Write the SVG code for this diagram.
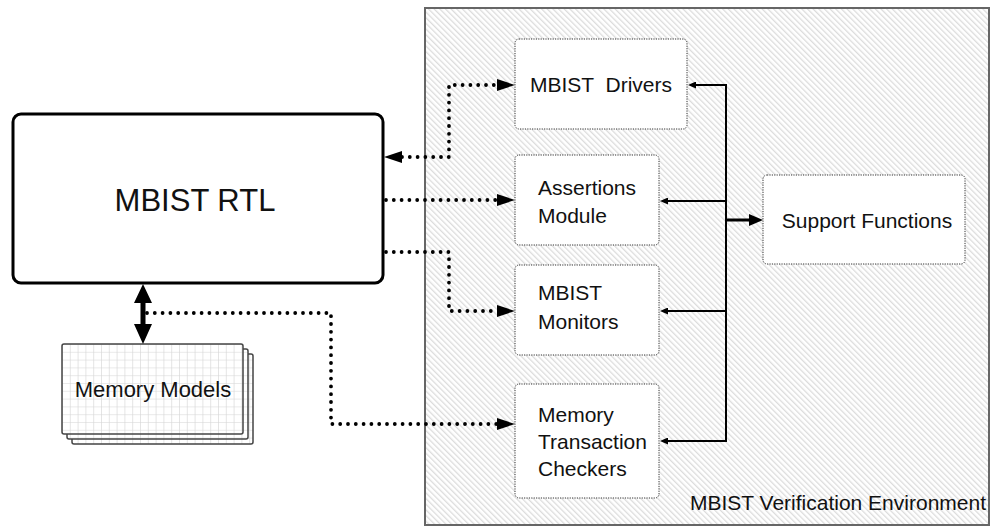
<svg xmlns="http://www.w3.org/2000/svg" width="994" height="527" viewBox="0 0 994 527">
  <defs>
    <pattern id="hatch" width="4" height="4" patternUnits="userSpaceOnUse" patternTransform="rotate(-45)">
      <rect width="4" height="4" fill="#ffffff"/>
      <rect x="0" y="0" width="1.3" height="4" fill="#dcdcdc"/>
    </pattern>
    <pattern id="grid" width="7.8" height="7.8" patternUnits="userSpaceOnUse" x="62" y="344">
      <rect width="7.8" height="7.8" fill="#ffffff"/>
      <path d="M0,0 H7.8 M0,0 V7.8" stroke="#d4d4d4" stroke-width="1.2" fill="none"/>
    </pattern>
    <marker id="dotHead" markerUnits="userSpaceOnUse" markerWidth="18" markerHeight="12" viewBox="0 0 18 12" refX="0" refY="6" orient="auto-start-reverse">
      <path d="M0,0 L18,6 L0,12 Z" fill="#000"/>
    </marker>
    <marker id="smallHead" markerUnits="userSpaceOnUse" markerWidth="8" markerHeight="7" viewBox="0 0 8 7" refX="0" refY="3.5" orient="auto">
      <path d="M0,0 L8,3.5 L0,7 Z" fill="#000"/>
    </marker>
    <marker id="bigHead" markerUnits="userSpaceOnUse" markerWidth="14" markerHeight="12" viewBox="0 0 14 12" refX="0" refY="6" orient="auto">
      <path d="M0,0 L14,6 L0,12 Z" fill="#000"/>
    </marker>
  </defs>
  <style>
    text { font-family: "Liberation Sans", Arial, sans-serif; fill: #111; }
    .lbl { font-size: 21px; }
    .box { fill: #ffffff; stroke: #333; stroke-width: 1; stroke-dasharray: 1.2 1.2; }
    .dots { fill: none; stroke: #000; stroke-width: 3.8; stroke-linecap: round; stroke-linejoin: round; stroke-dasharray: 0 7.8; }
    .solid { fill: none; stroke: #000; stroke-width: 2; }
    .mem { fill: url(#grid); stroke: #444; stroke-width: 1.5; }
  </style>

  <!-- verification environment frame -->
  <g id="verification-env">
    <rect x="425" y="8" width="564" height="517" fill="url(#hatch)" stroke="#666" stroke-width="2"/>
    <text class="lbl" x="986" y="510" text-anchor="end">MBIST Verification Environment</text>
  </g>

  <!-- RTL block -->
  <g id="mbist-rtl">
    <rect x="13" y="114" width="370" height="169" rx="8" fill="#fff" stroke="#000" stroke-width="3"/>
    <text x="195" y="211" font-size="31" text-anchor="middle">MBIST RTL</text>
  </g>

  <!-- stacked memory models -->
  <g id="memory-models">
    <rect class="mem" x="72" y="354" width="181" height="90" rx="2"/>
    <rect class="mem" x="67" y="349" width="181" height="90" rx="2"/>
    <rect class="mem" x="62" y="344" width="181" height="90" rx="2"/>
    <text x="153" y="397" font-size="22" text-anchor="middle">Memory Models</text>
  </g>

  <g id="mbist-drivers">
    <rect class="box" x="515" y="39" width="172" height="90" rx="4"/>
    <text class="lbl" x="601" y="92" text-anchor="middle" xml:space="preserve">MBIST  Drivers</text>
  </g>

  <g id="assertions-module">
    <rect class="box" x="515" y="155" width="144" height="90" rx="4"/>
    <text class="lbl" x="538" y="195">Assertions</text>
    <text class="lbl" x="538" y="223">Module</text>
  </g>

  <g id="mbist-monitors">
    <rect class="box" x="515" y="265" width="144" height="90" rx="4"/>
    <text class="lbl" x="538" y="300">MBIST</text>
    <text class="lbl" x="538" y="329">Monitors</text>
  </g>

  <g id="transaction-checkers">
    <rect class="box" x="515" y="384" width="144" height="114" rx="4"/>
    <text class="lbl" x="538" y="422">Memory</text>
    <text class="lbl" x="538" y="449">Transaction</text>
    <text class="lbl" x="538" y="476">Checkers</text>
  </g>

  <g id="support-functions">
    <rect class="box" x="763" y="175" width="202" height="89" rx="4"/>
    <text class="lbl" x="867" y="228" text-anchor="middle">Support Functions</text>
  </g>

  <!-- connectors -->
  <g id="connectors">
    <!-- dotted RTL links -->
    <path class="dots" d="M402,157 H449 V85 H497" marker-start="url(#dotHead)" marker-end="url(#dotHead)"/>
    <path class="dots" d="M386,200 H497" marker-end="url(#dotHead)"/>
    <path class="dots" d="M386,252 H449 V311 H497" marker-end="url(#dotHead)"/>
    <path class="dots" d="M147,313 H331 V424 H497" marker-end="url(#dotHead)"/>

    <!-- RTL to memory bus -->
    <polygon points="143,284 152,303 145.5,303 145.5,324 152,324 143,344 134,324 140.5,324 140.5,303 134,303" fill="#000"/>

    <!-- support function bus -->
    <path class="solid" d="M726,84 V442"/>
    <path class="solid" d="M727,85 H696" marker-end="url(#smallHead)"/>
    <path class="solid" d="M727,201 H668" marker-end="url(#smallHead)"/>
    <path class="solid" d="M727,311 H668" marker-end="url(#smallHead)"/>
    <path class="solid" d="M727,441 H668" marker-end="url(#smallHead)"/>
    <path fill="none" stroke="#000" stroke-width="3" d="M725,220 H749" marker-end="url(#bigHead)"/>
  </g>
</svg>
